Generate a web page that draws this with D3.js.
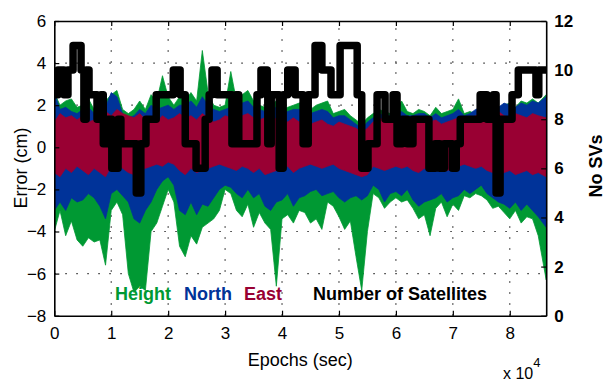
<!DOCTYPE html>
<html>
<head>
<meta charset="utf-8">
<script src="https://cdn.jsdelivr.net/npm/d3@7"></script>
<style>
  body { margin: 0; background: #fff; }
  text { font-family: "Liberation Sans", Arial, Helvetica, sans-serif; }
</style>
</head>
<body>
<div id="chart"></div>
<script>
// bin epochs (sec), one per 1000 s, last one is the end of the day
const epochs = d3.range(87).map(k => k < 86 ? k * 1000 : 86400);

// envelope of each error series per bin (cm)
const heightHi = [2.6,2.0,2.2,2.3,1.9,2.0,2.3,1.8,2.4,2.2,2.5,2.7,1.8,1.6,1.8,2.2,1.8,2.5,2.2,3.4,
  2.4,2.0,2.4,2.2,2.6,2.2,4.6,2.6,2.0,1.9,2.0,3.6,2.2,2.5,2.7,2.2,2.0,1.9,2.0,2.2,
  1.8,1.9,2.0,2.1,2.2,1.8,2.0,2.1,2.2,1.6,1.7,1.8,1.5,1.3,1.1,1.4,1.6,1.8,1.7,1.6,
  1.8,2.2,1.7,1.6,1.8,1.7,1.5,1.9,1.6,1.7,1.8,2.3,1.6,1.7,1.6,1.8,1.7,1.9,1.8,2.0,
  2.1,1.9,2.2,2.1,2.3,2.1,2.5];
const heightLo = [-4.0,-3.0,-4.2,-3.5,-4.4,-4.7,-4.3,-4.5,-4.4,-5.6,-3.0,-2.6,-3.2,-6.0,-6.9,-6.6,-6.8,-4.0,-3.6,-2.8,
  -2.0,-2.6,-4.7,-5.2,-4.2,-4.6,-3.8,-3.6,-3.4,-3.0,-2.0,-2.2,-3.0,-3.3,-2.7,-3.8,-3.1,-3.6,-3.9,-6.6,
  -3.4,-3.2,-3.6,-3.0,-3.1,-3.6,-3.4,-3.9,-2.6,-2.8,-3.3,-3.9,-3.5,-5.2,-6.8,-4.0,-2.2,-2.4,-2.9,-2.6,
  -2.4,-2.6,-2.5,-2.9,-3.4,-3.2,-4.2,-2.9,-2.6,-3.3,-2.7,-3.0,-2.3,-2.4,-2.2,-2.3,-2.5,-2.9,-2.8,-3.1,
  -3.4,-3.0,-3.6,-3.3,-3.4,-4.2,-6.3];
const northHi = [2.6,1.8,1.9,1.7,1.6,1.8,1.9,1.6,2.0,1.9,2.6,2.4,1.6,1.4,1.5,1.8,1.6,2.0,1.8,1.9,
  2.0,1.8,2.0,2.0,2.2,1.9,2.4,2.0,1.8,1.7,1.8,1.9,1.8,2.1,2.2,1.9,1.8,1.7,1.8,1.9,
  1.6,1.7,1.8,1.8,1.9,1.6,1.7,1.8,1.7,1.4,1.5,1.5,1.3,1.1,0.9,1.2,1.4,1.6,1.5,1.5,
  1.6,1.7,1.5,1.5,1.6,1.6,1.4,1.6,1.4,1.5,1.6,1.8,1.5,1.6,1.8,1.9,1.7,2.0,1.9,2.1,
  2.0,1.9,2.1,2.0,2.2,2.1,2.4];
const northLo = [-3.0,-2.6,-3.0,-2.4,-2.6,-2.5,-2.2,-2.4,-2.8,-3.4,-2.2,-2.0,-2.3,-2.6,-3.4,-3.6,-3.0,-2.6,-2.0,-1.6,
  -1.4,-1.8,-3.0,-3.2,-2.6,-3.2,-2.7,-2.8,-2.4,-2.0,-1.8,-1.9,-2.2,-2.4,-2.0,-2.4,-2.2,-2.8,-3.0,-2.6,
  -2.5,-2.2,-2.8,-2.4,-2.3,-2.1,-2.0,-2.3,-2.2,-2.1,-2.4,-2.6,-2.4,-2.3,-2.5,-2.3,-1.8,-2.0,-2.6,-2.2,
  -2.1,-2.3,-2.0,-2.5,-2.8,-2.6,-2.5,-2.4,-2.2,-2.6,-2.4,-2.3,-2.0,-2.2,-2.0,-1.8,-2.2,-2.4,-2.6,-2.7,
  -2.9,-2.6,-3.0,-2.7,-3.0,-3.3,-3.8];
const eastHi = [1.2,1.6,1.4,1.5,1.3,1.5,1.2,1.3,1.6,1.7,1.5,1.8,1.6,1.5,1.4,1.6,1.3,1.4,1.2,1.5,
  1.3,1.4,1.6,1.4,1.5,1.3,1.6,1.4,1.2,1.3,1.5,1.4,1.3,1.5,1.6,1.4,1.3,1.4,1.2,1.4,
  1.3,1.2,1.4,1.2,1.3,1.1,1.2,1.3,1.1,1.0,1.2,1.1,1.0,0.9,0.7,0.9,1.2,1.4,1.3,1.2,
  1.3,1.4,1.2,1.3,1.2,1.4,1.2,1.3,1.1,1.2,1.3,1.4,1.2,1.3,1.5,1.6,1.4,1.6,1.7,1.5,
  1.4,1.6,1.5,1.4,1.6,1.5,1.4];
const eastLo = [-1.2,-1.4,-1.0,-1.2,-0.9,-1.1,-1.3,-1.0,-1.2,-1.4,-0.9,-0.8,-1.0,-1.2,-1.3,-1.1,-1.0,-0.9,-0.8,-0.9,
  -0.7,-0.8,-1.1,-1.3,-1.0,-1.2,-1.1,-1.0,-0.9,-0.8,-0.9,-1.0,-1.1,-0.9,-1.0,-1.2,-1.0,-1.3,-1.2,-1.1,
  -1.0,-0.9,-1.2,-1.0,-0.9,-0.8,-0.9,-1.0,-0.9,-0.8,-1.0,-1.1,-1.2,-1.3,-1.4,-1.3,-0.9,-1.0,-1.1,-1.0,
  -0.9,-1.0,-0.9,-1.1,-1.2,-1.0,-1.1,-1.0,-0.9,-1.1,-1.0,-0.9,-0.8,-0.9,-1.0,-0.9,-1.1,-1.2,-1.3,-1.2,
  -1.1,-1.3,-1.2,-1.1,-1.3,-1.2,-1.4];

// number of satellites: epoch where the count changes, and the new count
const satEpoch = [0,650,1700,2400,3300,4700,5200,5600,6100,7500,8200,8600,9400,10100,11200,11700,14400,15200,16100,17900,
  20900,22100,23000,24900,26500,27200,27700,28600,31200,31900,32400,35600,36300,37400,37500,38100,39500,40200,41000,42300,
  43700,44600,45800,47000,48600,50200,53200,54000,55100,56700,58100,59500,60200,61100,62000,63000,65800,66900,67700,68500,
  69900,70600,71300,74800,76000,77100,77600,78300,80400,81500,84600,85100,86400];
const satCount = [9,10,9,10,11,10,8,10,9,8,9,7,8,6,8,7,5,7,8,9,
  10,9,7,6,8,9,10,9,7,9,7,9,10,9,7,9,6,9,10,9,
  7,9,11,10,9,11,9,6,7,9,8,9,7,8,7,8,6,7,6,7,
  6,7,8,9,8,9,5,8,9,10,9,10,10];

const series = [
  { name: "Height", hi: heightHi, lo: heightLo, color: "#009933" },
  { name: "North", hi: northHi, lo: northLo, color: "#003399" },
  { name: "East", hi: eastHi, lo: eastLo, color: "#990033" }
];

const yTicksLeft = [-8, -6, -4, -2, 0, 2, 4, 6];
const yTicksRight = [0, 2, 4, 6, 8, 10, 12];
const xTicks = [0, 10000, 20000, 30000, 40000, 50000, 60000, 70000, 80000];

const width = 607, height = 383;
const plotL = 54.3, plotR = 546.2, plotT = 21, plotB = 315.7;

const svg = d3.select("#chart").append("svg")
  .attr("width", width)
  .attr("height", height);

svg.append("rect").attr("width", width).attr("height", height).attr("fill", "#fff");

const x = d3.scaleLinear().domain([0, 86400]).range([plotL, plotR]);
const yL = d3.scaleLinear().domain([-8, 6]).range([plotB, plotT]);
const yR = d3.scaleLinear().domain([0, 12]).range([plotB, plotT]);

// dotted grid
const grid = svg.append("g")
  .attr("stroke", "#333")
  .attr("stroke-width", 1.2)
  .attr("stroke-dasharray", "1.5,9.5");
grid.selectAll("line.gx")
  .data(xTicks.slice(1))
  .join("line")
  .attr("class", "gx")
  .attr("x1", d => x(d)).attr("x2", d => x(d))
  .attr("y1", plotB).attr("y2", plotT);
grid.selectAll("line.gy")
  .data(yTicksLeft.slice(1, -1))
  .join("line")
  .attr("class", "gy")
  .attr("x1", plotL).attr("x2", plotR)
  .attr("y1", d => yL(d)).attr("y2", d => yL(d));

svg.append("clipPath").attr("id", "plot")
  .append("rect")
  .attr("x", plotL).attr("y", plotT)
  .attr("width", plotR - plotL).attr("height", plotB - plotT);

const plot = svg.append("g").attr("clip-path", "url(#plot)");

// error bands
series.forEach(s => {
  const area = d3.area()
    .x((d, i) => x(epochs[i]))
    .y0((d, i) => yL(s.lo[i]))
    .y1((d, i) => yL(s.hi[i]));
  plot.append("path")
    .datum(epochs)
    .attr("d", area)
    .attr("fill", s.color)
    .attr("stroke", s.color)
    .attr("stroke-width", 0.8);
});

// number of satellites
const satLine = d3.line()
  .x((d, i) => x(satEpoch[i]))
  .y(d => yR(d))
  .curve(d3.curveStepAfter);
plot.append("path")
  .datum(satCount)
  .attr("d", satLine)
  .attr("fill", "none")
  .attr("stroke", "#000")
  .attr("stroke-width", 7.5)
  .attr("stroke-linejoin", "round")
  .attr("stroke-linecap", "round");

// axes
const fmt = d => d / 10000;
svg.append("g")
  .attr("transform", `translate(0,${plotB})`)
  .call(d3.axisBottom(x).tickValues(xTicks).tickFormat(fmt).tickSizeInner(-5).tickSizeOuter(0).tickPadding(11))
  .call(g => g.selectAll("text").attr("font-size", 17).attr("fill", "#000"));
svg.append("g")
  .attr("transform", `translate(0,${plotT})`)
  .call(d3.axisTop(x).tickValues(xTicks).tickFormat("").tickSizeInner(-5).tickSizeOuter(0));
svg.append("g")
  .attr("transform", `translate(${plotL},0)`)
  .call(d3.axisLeft(yL).tickValues(yTicksLeft).tickSizeInner(-5).tickSizeOuter(0).tickPadding(8))
  .call(g => g.selectAll("text").attr("font-size", 17).attr("fill", "#000"));
svg.append("g")
  .attr("transform", `translate(${plotR},0)`)
  .call(d3.axisRight(yR).tickValues(yTicksRight).tickSizeInner(-5).tickSizeOuter(0).tickPadding(8))
  .call(g => g.selectAll("text").attr("font-size", 17).attr("font-weight", "bold").attr("fill", "#000"));

svg.selectAll(".domain").attr("stroke", "#000").attr("stroke-width", 1.6);
svg.selectAll(".tick line").attr("stroke", "#000").attr("stroke-width", 1.2);
svg.selectAll(".tick text").attr("font-family", "'Liberation Sans', Arial, sans-serif");

// axis titles
svg.append("text")
  .attr("x", (plotL + plotR) / 2).attr("y", 366)
  .attr("text-anchor", "middle")
  .attr("font-size", 18)
  .text("Epochs (sec)");
svg.append("text")
  .attr("transform", "translate(27,168) rotate(-90)")
  .attr("text-anchor", "middle")
  .attr("font-size", 18)
  .text("Error (cm)");
svg.append("text")
  .attr("transform", "translate(602,166) rotate(-90)")
  .attr("text-anchor", "middle")
  .attr("font-size", 18)
  .attr("font-weight", "bold")
  .text("No SVs");
const mult = svg.append("text").attr("x", 503).attr("y", 379).attr("font-size", 16);
mult.append("tspan").text("x 10");
mult.append("tspan").attr("font-size", 13).attr("dy", -12).text("4");

// legend labels
const legend = [
  { label: "Height", x: 115, color: "#009933" },
  { label: "North", x: 184, color: "#003399" },
  { label: "East", x: 244, color: "#990033" },
  { label: "Number of Satellites", x: 313, color: "#000" }
];
svg.append("g").selectAll("text")
  .data(legend)
  .join("text")
  .attr("x", d => d.x).attr("y", 300)
  .attr("font-size", 18)
  .attr("font-weight", "bold")
  .attr("fill", d => d.color)
  .text(d => d.label);
</script>
</body>
</html>
